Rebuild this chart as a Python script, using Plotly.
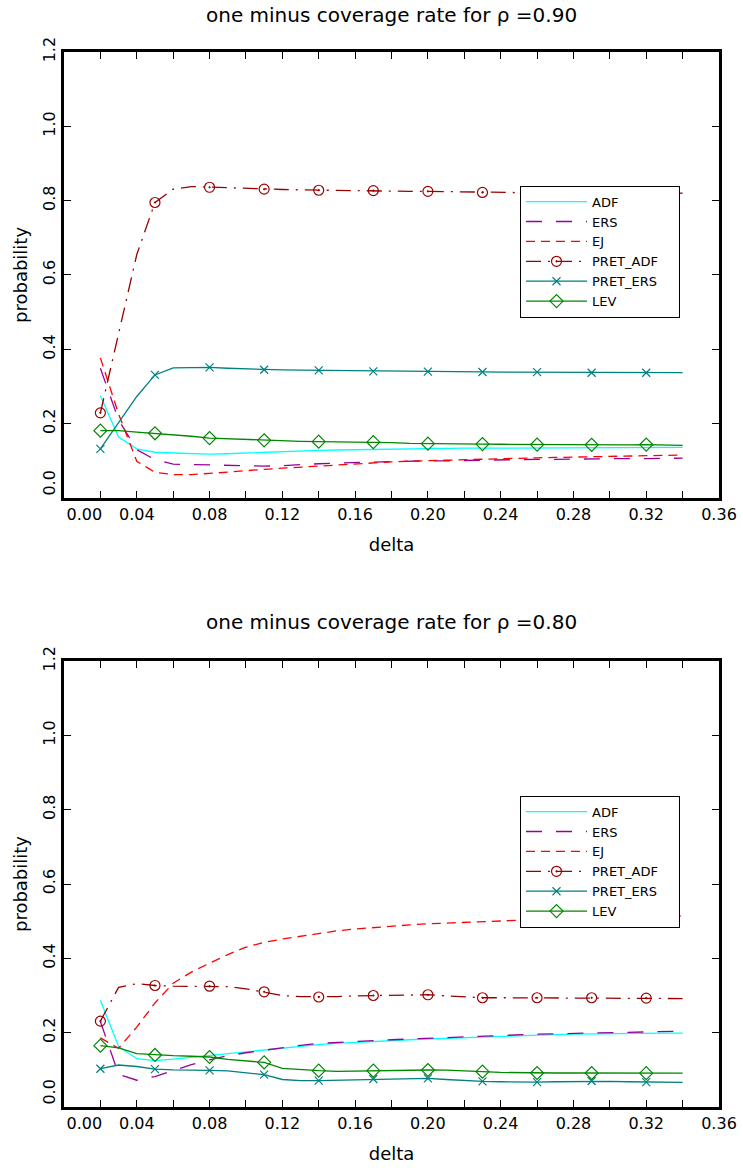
import plotly.graph_objects as go

# ---------------- data ----------------
delta = [0.02, 0.03, 0.04, 0.05, 0.06, 0.07, 0.08, 0.09, 0.10, 0.11, 0.12,
         0.13, 0.14, 0.15, 0.16, 0.17, 0.18, 0.19, 0.20, 0.21, 0.22, 0.23,
         0.24, 0.25, 0.26, 0.27, 0.28, 0.29, 0.30, 0.31, 0.32, 0.33, 0.34]

# rho = 0.90
adf_90 = [0.275, 0.164, 0.132, 0.123, 0.121, 0.119, 0.118, 0.119, 0.121, 0.123, 0.125,
          0.126, 0.128, 0.129, 0.130, 0.131, 0.132, 0.132, 0.133, 0.133, 0.134, 0.134,
          0.134, 0.135, 0.135, 0.135, 0.135, 0.135, 0.136, 0.136, 0.136, 0.136, 0.136]
ers_90 = [0.349, 0.210, 0.130, 0.103, 0.091, 0.090, 0.089, 0.087, 0.085, 0.0855, 0.087,
          0.090, 0.092, 0.094, 0.0955, 0.097, 0.0985, 0.0995, 0.100, 0.100, 0.101, 0.1025,
          0.103, 0.103, 0.104, 0.104, 0.105, 0.105, 0.105, 0.106, 0.106, 0.107, 0.107]
ej_90 = [0.377, 0.226, 0.0985, 0.069, 0.063, 0.063, 0.066, 0.070, 0.073, 0.077, 0.080,
         0.083, 0.086, 0.089, 0.092, 0.094, 0.097, 0.099, 0.1005, 0.102, 0.103, 0.1035,
         0.105, 0.1065, 0.108, 0.109, 0.110, 0.111, 0.1125, 0.1135, 0.114, 0.115, 0.1155]
pret_adf_90 = [0.229, 0.440, 0.655, 0.795, 0.831, 0.838, 0.836, 0.834, 0.833, 0.831, 0.830,
               0.829, 0.828, 0.827, 0.827, 0.827, 0.826, 0.825, 0.825, 0.824, 0.823, 0.822,
               0.822, 0.822, 0.821, 0.821, 0.821, 0.821, 0.820, 0.820, 0.820, 0.820, 0.820]
pret_ers_90 = [0.132, 0.202, 0.273, 0.331, 0.350, 0.3505, 0.3515, 0.349, 0.347, 0.345, 0.3445,
               0.344, 0.3434, 0.3425, 0.3415, 0.3407, 0.3405, 0.340, 0.340, 0.3395, 0.339, 0.339,
               0.3388, 0.3386, 0.3385, 0.338, 0.3375, 0.337, 0.337, 0.337, 0.337, 0.337, 0.337]
lev_90 = [0.181, 0.181, 0.177, 0.174, 0.169, 0.166, 0.161, 0.159, 0.157, 0.155, 0.154,
          0.1525, 0.1515, 0.151, 0.1505, 0.150, 0.149, 0.147, 0.146, 0.146, 0.1455, 0.145,
          0.1445, 0.144, 0.1435, 0.1435, 0.1435, 0.143, 0.1435, 0.143, 0.1435, 0.142, 0.1415]

# rho = 0.80
adf_80 = [0.287, 0.163, 0.130, 0.125, 0.129, 0.134, 0.138, 0.144, 0.149, 0.154, 0.159,
          0.163, 0.168, 0.171, 0.174, 0.177, 0.179, 0.181, 0.183, 0.185, 0.1865, 0.188,
          0.190, 0.192, 0.193, 0.195, 0.196, 0.197, 0.197, 0.198, 0.198, 0.199, 0.199]
ers_80 = [0.230, 0.088, 0.072, 0.082, 0.098, 0.114, 0.127, 0.138, 0.146, 0.153, 0.160,
          0.166, 0.171, 0.174, 0.177, 0.179, 0.181, 0.183, 0.185, 0.187, 0.190, 0.191,
          0.192, 0.194, 0.196, 0.197, 0.198, 0.199, 0.200, 0.201, 0.202, 0.203, 0.204]
ej_80 = [0.186, 0.158, 0.215, 0.280, 0.333, 0.363, 0.387, 0.410, 0.430, 0.443, 0.452,
         0.460, 0.468, 0.474, 0.479, 0.483, 0.487, 0.490, 0.493, 0.495, 0.497, 0.499,
         0.501, 0.503, 0.505, 0.506, 0.508, 0.509, 0.510, 0.511, 0.512, 0.513, 0.514]
pret_adf_80 = [0.231, 0.322, 0.332, 0.327, 0.325, 0.325, 0.325, 0.324, 0.318, 0.310, 0.300,
               0.297, 0.296, 0.297, 0.299, 0.300, 0.301, 0.302, 0.302, 0.299, 0.296, 0.294,
               0.294, 0.294, 0.294, 0.294, 0.294, 0.294, 0.294, 0.293, 0.293, 0.292, 0.2915]
pret_ers_80 = [0.103, 0.113, 0.109, 0.102, 0.100, 0.100, 0.0985, 0.097, 0.093, 0.087, 0.074,
               0.071, 0.071, 0.072, 0.074, 0.0753, 0.076, 0.077, 0.077, 0.074, 0.071, 0.069,
               0.068, 0.067, 0.067, 0.068, 0.069, 0.070, 0.069, 0.068, 0.067, 0.066, 0.066]
lev_80 = [0.165, 0.159, 0.1435, 0.140, 0.138, 0.1365, 0.1345, 0.128, 0.124, 0.120, 0.104,
          0.100, 0.0977, 0.096, 0.097, 0.0977, 0.099, 0.0995, 0.0995, 0.099, 0.098, 0.095,
          0.093, 0.092, 0.0915, 0.0915, 0.0915, 0.0915, 0.0915, 0.091, 0.091, 0.091, 0.091]

series_names = ["ADF", "ERS", "EJ", "PRET_ADF", "PRET_ERS", "LEV"]
panel_titles = ["one minus coverage rate for \u03c1 =0.90",
                "one minus coverage rate for \u03c1 =0.80"]
x_tick_vals = [0.00, 0.02, 0.04, 0.06, 0.08, 0.10, 0.12, 0.14, 0.16, 0.18,
               0.20, 0.22, 0.24, 0.26, 0.28, 0.30, 0.32, 0.34, 0.36]
x_tick_text = ["\u00a0" * 8 + "0.00", "", "0.04", "", "0.08", "", "0.12", "", "0.16", "",
               "0.20", "", "0.24", "", "0.28", "", "0.32", "", "0.36"]
y_tick_vals = [0.0, 0.2, 0.4, 0.6, 0.8, 1.0, 1.2]
y_tick_text = ["\u00a0" * 5 + "0.0", "0.2", "0.4", "0.6", "0.8", "1.0", "1.2"]

# ---------------- styles ----------------
FONT = "DejaVu Sans"
styles = {
    "ADF":      dict(color="#00FFFF", dash="solid", symbol=None),
    "ERS":      dict(color="#990099", dash="16px,14px", symbol=None),
    "EJ":       dict(color="#FF0000", dash="9px,6px", symbol=None),
    "PRET_ADF": dict(color="#990000", dash="15px,7px,2px,7px", symbol="circle-open-dot", size=10),
    "PRET_ERS": dict(color="#008080", dash="solid", symbol="x-thin-open", size=8),
    "LEV":      dict(color="#008800", dash="solid", symbol="diamond-open", size=10),
}
# invisible padding so the legend box gets the reference's width
legend_pad = "\u00a0" * 4

panels = [
    (dict(zip(series_names, [adf_90, ers_90, ej_90, pret_adf_90, pret_ers_90, lev_90])), "x", "y", "legend"),
    (dict(zip(series_names, [adf_80, ers_80, ej_80, pret_adf_80, pret_ers_80, lev_80])), "x2", "y2", "legend2"),
]

fig = go.Figure()
for data, xa, ya, leg in panels:
    for name in series_names:
        st = styles[name]
        label = name + legend_pad if name == "PRET_ERS" else name
        kw = dict(x=delta, y=data[name], name=label, xaxis=xa, yaxis=ya, legend=leg,
                  line=dict(color=st["color"], width=1.3, dash=st["dash"]))
        if st["symbol"] is None:
            kw["mode"] = "lines"
        else:
            mcol = [st["color"] if i % 3 == 0 and i <= 30 else "rgba(0,0,0,0)"
                    for i in range(len(delta))]
            kw["mode"] = "lines+markers"
            kw["marker"] = dict(symbol=st["symbol"], size=st["size"], color=mcol,
                                line=dict(width=1.2))
        fig.add_trace(go.Scatter(**kw))

axis_common = dict(showline=True, linewidth=3, linecolor="black", mirror="ticks",
                   ticks="inside", ticklen=7, tickwidth=1, tickcolor="black",
                   showgrid=False, zeroline=False, automargin=False,
                   tickfont=dict(family=FONT, size=16, color="black"))

xcfg = dict(axis_common, range=[0, 0.36], tickmode="array", tickvals=x_tick_vals,
            ticktext=x_tick_text,
            title=dict(text="delta", font=dict(family=FONT, size=18, color="black"), standoff=16))
ycfg = dict(axis_common, range=[0, 1.2], tickmode="array", tickvals=y_tick_vals,
            ticktext=y_tick_text, tickangle=-90,
            title=dict(text="probability", font=dict(family=FONT, size=18, color="black"), standoff=8))

legend_common = dict(xanchor="left", yanchor="top", bgcolor="white", bordercolor="black",
                     borderwidth=1, font=dict(family=FONT, size=13, color="black"),
                     itemwidth=61, tracegroupgap=0)

fig.update_layout(
    width=743, height=1168,
    margin=dict(l=64, r=24, t=52, b=61),
    paper_bgcolor="white", plot_bgcolor="white",
    font=dict(family=FONT, color="black"),
    xaxis=dict(xcfg, domain=[0, 1], anchor="y"),
    yaxis=dict(ycfg, domain=[0.5773, 1], anchor="x"),
    xaxis2=dict(xcfg, domain=[0, 1], anchor="y2"),
    yaxis2=dict(ycfg, domain=[0, 0.4227], anchor="x2"),
    legend=dict(legend_common, x=0.6962, y=0.8733),
    legend2=dict(legend_common, x=0.6962, y=0.2951),
    annotations=[
        dict(text=panel_titles[0], xref="paper", yref="paper", x=0.5, y=1.0354,
             xanchor="center", yanchor="middle", showarrow=False,
             font=dict(family=FONT, size=20, color="black")),
        dict(text=panel_titles[1], xref="paper", yref="paper", x=0.5, y=0.46,
             xanchor="center", yanchor="middle", showarrow=False,
             font=dict(family=FONT, size=20, color="black")),
    ],
)

fig.write_html("out.html")
